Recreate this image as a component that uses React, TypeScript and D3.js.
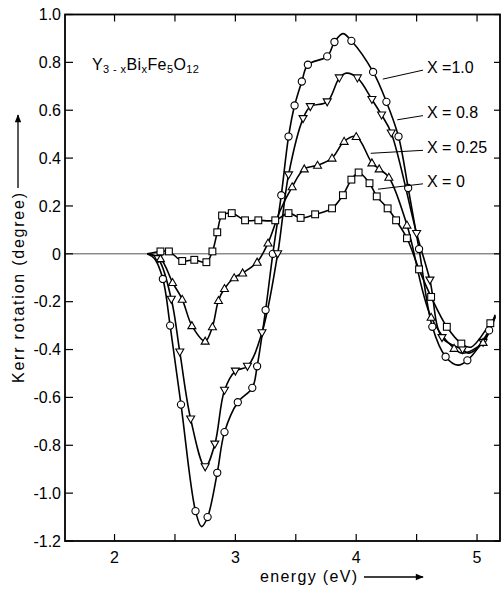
import React from 'react';
import * as d3 from 'd3';

// [energy (eV), Kerr rotation (degree), marker drawn? 1/0]
const seriesX10 = [
  [2.27, 0, 0], [2.33, -0.02, 0], [2.40, -0.105, 1], [2.46, -0.30, 1], [2.55, -0.63, 1],
  [2.67, -1.075, 1], [2.72, -1.14, 0], [2.77, -1.10, 1], [2.85, -0.915, 1], [2.91, -0.745, 1],
  [3.02, -0.62, 1], [3.14, -0.56, 1], [3.18, -0.47, 1], [3.25, -0.235, 1], [3.31, 0.0, 1],
  [3.38, 0.245, 1], [3.44, 0.49, 1], [3.49, 0.62, 1], [3.55, 0.72, 1], [3.60, 0.79, 1],
  [3.76, 0.825, 1], [3.82, 0.885, 1], [3.89, 0.92, 0], [3.96, 0.89, 1], [4.14, 0.76, 1],
  [4.25, 0.635, 1], [4.35, 0.49, 1], [4.43, 0.275, 1], [4.52, 0.02, 1], [4.63, -0.305, 1],
  [4.74, -0.43, 1], [4.84, -0.465, 0], [4.92, -0.445, 1], [5.10, -0.32, 1], [5.15, -0.265, 0],
];

const seriesX08 = [
  [2.27, 0, 0], [2.36, -0.02, 1], [2.47, -0.19, 1], [2.54, -0.41, 1], [2.63, -0.69, 1],
  [2.75, -0.89, 1], [2.83, -0.795, 1], [2.91, -0.57, 1], [3.0, -0.49, 1], [3.10, -0.47, 1],
  [3.22, -0.33, 1], [3.35, 0.0, 1], [3.44, 0.33, 1], [3.56, 0.565, 1], [3.62, 0.615, 1],
  [3.76, 0.635, 1], [3.86, 0.735, 1], [3.92, 0.755, 0], [4.01, 0.735, 1], [4.13, 0.645, 1],
  [4.21, 0.58, 1], [4.29, 0.505, 1], [4.50, 0.085, 1], [4.61, -0.11, 1], [4.71, -0.35, 1],
  [4.88, -0.40, 1], [4.93, -0.415, 0], [5.05, -0.37, 1], [5.15, -0.255, 0],
];

const seriesX025 = [
  [2.27, 0, 0], [2.38, -0.02, 1], [2.48, -0.12, 1], [2.56, -0.19, 1], [2.64, -0.30, 1],
  [2.75, -0.365, 1], [2.81, -0.305, 1], [2.86, -0.195, 1], [2.91, -0.145, 1], [2.99, -0.10, 1],
  [3.06, -0.08, 1], [3.18, -0.035, 1], [3.27, 0.045, 1], [3.37, 0.18, 0], [3.47, 0.28, 1],
  [3.57, 0.355, 1], [3.68, 0.37, 1], [3.80, 0.40, 1], [3.90, 0.47, 1], [4.0, 0.49, 1],
  [4.13, 0.38, 1], [4.19, 0.355, 1], [4.27, 0.32, 1], [4.42, 0.12, 1], [4.62, -0.265, 1],
  [4.81, -0.395, 1], [4.88, -0.415, 0], [5.05, -0.37, 1], [5.15, -0.26, 0],
];

const seriesX0 = [
  [2.27, 0, 0], [2.38, 0.01, 1], [2.45, 0.01, 1], [2.56, -0.03, 1], [2.66, -0.025, 1],
  [2.76, -0.035, 1], [2.81, 0.01, 1], [2.85, 0.09, 1], [2.89, 0.16, 1], [2.97, 0.17, 1],
  [3.08, 0.14, 1], [3.19, 0.14, 1], [3.33, 0.14, 1], [3.44, 0.17, 1], [3.54, 0.15, 1],
  [3.66, 0.165, 1], [3.80, 0.19, 1], [3.89, 0.245, 1], [3.96, 0.31, 1], [4.02, 0.34, 1],
  [4.11, 0.295, 1], [4.17, 0.24, 1], [4.26, 0.19, 1], [4.33, 0.14, 1], [4.42, 0.065, 1],
  [4.52, -0.065, 1], [4.62, -0.18, 1], [4.75, -0.305, 1], [4.87, -0.375, 1], [4.95, -0.39, 0],
  [5.11, -0.29, 1], [5.15, -0.265, 0],
];

const seriesNames = ['X =1.0', 'X = 0.8', 'X = 0.25', 'X = 0'];
// where each leader line touches its curve
const labelAnchors = [[4.22, 0.73], [4.34, 0.56], [4.12, 0.42], [4.18, 0.27]];
const labelValues = [0.78, 0.59, 0.445, 0.305];

const yTicks = d3.range(-1.2, 1.01, 0.2).map((v) => +v.toFixed(1));
const xMajor = [2, 3, 4, 5];
const xMinor = [2.5, 3.5, 4.5];

const font = '"Liberation Sans", Arial, sans-serif';

export default function App() {
  const x = d3.scaleLinear().domain([1.59, 5.19]).range([65, 500]);
  const y = d3.scaleLinear().domain([-1.2, 1.0]).range([541, 14.5]);

  const line = d3
    .line<number[]>()
    .x((d) => x(d[0]))
    .y((d) => y(d[1]))
    .curve(d3.curveCatmullRom.alpha(0.5));

  const all = [seriesX10, seriesX08, seriesX025, seriesX0];

  const marker = (kind: number, cx: number, cy: number, key: string) => {
    const s = 4;
    if (kind === 0) return <circle key={key} cx={cx} cy={cy} r={3.6} />;
    if (kind === 1)
      return <path key={key} d={`M${cx - s},${cy - 3} L${cx + s},${cy - 3} L${cx},${cy + 4} Z`} />;
    if (kind === 2)
      return <path key={key} d={`M${cx - s},${cy + 3} L${cx + s},${cy + 3} L${cx},${cy - 4} Z`} />;
    return <rect key={key} x={cx - 3.4} y={cy - 3.4} width={6.8} height={6.8} />;
  };

  return (
    <svg width={503} height={590} style={{ position: 'absolute', left: 0, top: 0, background: '#fff' }}>
      <defs>
        <marker id="arr" viewBox="0 0 10 10" refX="9" refY="5" markerWidth="10" markerHeight="8" markerUnits="userSpaceOnUse" orient="auto">
          <path d="M0,1 L10,5 L0,9 Z" fill="#000" />
        </marker>
      </defs>

      {/* zero line */}
      <line x1={65} x2={500} y1={y(0)} y2={y(0)} stroke="#555" strokeWidth={1} />

      {/* frame */}
      <rect x={65} y={14.5} width={435} height={526.5} fill="none" stroke="#000" strokeWidth={1.8} />

      {/* y ticks */}
      {yTicks.map((t) => (
        <g key={'y' + t}>
          <line x1={65} x2={73} y1={y(t)} y2={y(t)} stroke="#000" strokeWidth={1.2} />
          <line x1={494} x2={500} y1={y(t)} y2={y(t)} stroke="#000" strokeWidth={1.2} />
          <text x={61} y={y(t)} dy="0.36em" textAnchor="end" fontFamily={font} fontSize={16}>
            {t === 0 ? '0' : t < 0 ? '-' + Math.abs(t).toFixed(1) : t.toFixed(1)}
          </text>
        </g>
      ))}

      {/* x ticks */}
      {[...xMajor, ...xMinor].map((t) => (
        <g key={'x' + t}>
          <line x1={x(t)} x2={x(t)} y1={541} y2={534} stroke="#000" strokeWidth={1.2} />
          <line x1={x(t)} x2={x(t)} y1={14.5} y2={21.5} stroke="#000" strokeWidth={1.2} />
        </g>
      ))}
      {xMajor.map((t) => (
        <text key={'xl' + t} x={x(t)} y={563} textAnchor="middle" fontFamily={font} fontSize={16}>
          {t}
        </text>
      ))}

      {/* curves */}
      {all.map((s, i) => (
        <path key={'c' + i} d={line(s) || ''} fill="none" stroke="#000" strokeWidth={1.6} />
      ))}
      {all.map((s, i) => (
        <g key={'m' + i} fill="#fff" stroke="#000" strokeWidth={1.1}>
          {s.filter((d) => d[2]).map((d, j) => marker(i, x(d[0]), y(d[1]), i + '-' + j))}
        </g>
      ))}

      {/* series labels with leader lines */}
      {seriesNames.map((n, i) => (
        <g key={'l' + i}>
          <line x1={x(labelAnchors[i][0])} y1={y(labelAnchors[i][1])} x2={423} y2={y(labelValues[i]) + 3} stroke="#000" strokeWidth={1} />
          <text x={427} y={y(labelValues[i])} dy="0.36em" fontFamily={font} fontSize={16}>
            {n}
          </text>
        </g>
      ))}

      {/* compound */}
      <text x={92} y={70} fontFamily={font} fontSize={16} letterSpacing={0.4}>
        Y<tspan fontSize={11} dy={3}>3 - x</tspan>
        <tspan dy={-3}>Bi</tspan>
        <tspan fontSize={11} dy={3}>x</tspan>
        <tspan dy={-3}>Fe</tspan>
        <tspan fontSize={11} dy={3}>5</tspan>
        <tspan dy={-3}>O</tspan>
        <tspan fontSize={11} dy={3}>12</tspan>
      </text>

      {/* axis titles */}
      <text transform="translate(24,288) rotate(-90)" textAnchor="middle" fontFamily={font} fontSize={16} textLength={190} lengthAdjust="spacing">
        Kerr rotation (degree)
      </text>
      <line x1={18} x2={18} y1={188} y2={115} stroke="#000" strokeWidth={1.3} markerEnd="url(#arr)" />

      <text x={260} y={582} fontFamily={font} fontSize={16} textLength={97} lengthAdjust="spacing">
        energy (eV)
      </text>
      <line x1={364} x2={423} y1={577} y2={577} stroke="#000" strokeWidth={1.3} markerEnd="url(#arr)" />
    </svg>
  );
}
